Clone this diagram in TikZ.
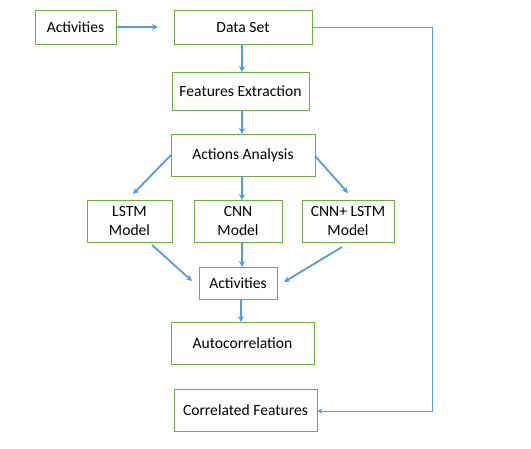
\documentclass[tikz,border=0pt]{standalone}
\usepackage{fontspec}
\setmainfont{Carlito}
\usetikzlibrary{arrows.meta}
\definecolor{boxgreen}{HTML}{70AD47}
\definecolor{arrblue}{HTML}{5B9BD5}
\begin{document}
\begin{tikzpicture}[x=1pt,y=-1pt,
  box/.style={draw=boxgreen,line width=0.9pt,inner sep=0pt,align=center,font=\fontsize{15.6}{19}\selectfont},
  arr/.style={draw=arrblue,line width=1.8pt,-{Stealth[length=6pt,width=6pt]}},
  thinarr/.style={draw=arrblue,line width=1pt,-{Stealth[length=5pt,width=5pt]}}]
\useasboundingbox (0,0) rectangle (531,448);
\newcommand{\bx}[6]{\node[box,minimum width=#4-#2,minimum height=#5-#3] (#1) at ({(#2+#4)/2},{(#3+#5)/2}) {#6};}
\bx{act1}{35}{10}{116}{44}{Activities}
\bx{ds}{174}{10}{312}{44}{Data Set}
\bx{fe}{172}{72}{309}{110}{Features Extraction}
\bx{aa}{171}{134}{315}{176}{Actions Analysis}
\bx{lstm}{87}{200}{172}{242}{LSTM\\Model}
\bx{cnn}{194}{200}{282}{242}{CNN\\Model}
\bx{cl}{302}{200}{394}{242}{CNN+ LSTM\\Model}
\bx{act2}{199}{267}{277}{299}{Activities}
\bx{auto}{171}{322}{314}{364}{Autocorrelation}
\bx{cf}{174}{389}{317}{431}{Correlated Features}
\coordinate (t1) at (158,27);
\draw[arr] (act1.east |- t1) -- (t1);
\draw[arr] (242,44) -- (242,72);
\draw[arr] (242,110) -- (242,134);
\coordinate (a1s) at (171,155);
\coordinate (a1e) at (133,194);
\draw[arr] (a1s) -- (a1e);
\draw[arr] (242,176) -- (242,200);
\coordinate (a3s) at (315,156);
\coordinate (a3e) at (348,193);
\draw[arr] (a3s) -- (a3e);
\coordinate (b1s) at (152,245);
\coordinate (b1e) at (192,281);
\draw[arr] (b1s) -- (b1e);
\draw[arr] (242,242) -- (242,267);
\coordinate (b3s) at (342,247);
\coordinate (b3e) at (284,282);
\draw[arr] (b3s) -- (b3e);
\draw[arr] (241,299) -- (241,322);
\coordinate (r1) at (432,27);
\coordinate (r2) at (432,411);
\draw[thinarr] (ds.east |- r1) -- (r1) -- (r2) -- (cf.east |- r2);
\end{tikzpicture}
\end{document}
